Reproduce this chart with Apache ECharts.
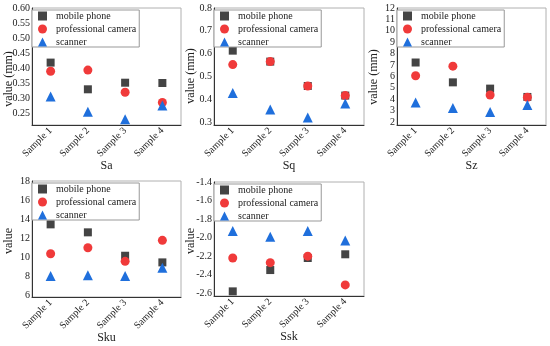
<!DOCTYPE html>
<html>
<head>
<meta charset="utf-8">
<script src="https://cdn.jsdelivr.net/npm/echarts@6/dist/echarts.min.js"></script>
<style>html,body{margin:0;padding:0;background:#fff;}#c{width:550px;height:346px;}</style>
</head>
<body>
<div id="c"></div>
<script>
const categories = ['Sample 1', 'Sample 2', 'Sample 3', 'Sample 4'];
const seriesNames = ['mobile phone', 'professional camera', 'scanner'];

const saMobile = [0.418, 0.329, 0.351, 0.350];
const saCamera = [0.389, 0.393, 0.319, 0.285];
const saScanner = [0.305, 0.254, 0.229, 0.275];

const sqMobile = [0.613, 0.565, 0.458, 0.416];
const sqCamera = [0.552, 0.565, 0.458, 0.416];
const sqScanner = [0.427, 0.355, 0.320, 0.381];

const szMobile = [7.22, 5.48, 4.93, 4.20];
const szCamera = [6.06, 6.90, 4.37, 4.17];
const szScanner = [3.71, 3.24, 2.87, 3.50];

const skuMobile = [13.44, 12.60, 10.14, 9.44];
const skuCamera = [10.35, 10.98, 9.55, 11.76];
const skuScanner = [8.00, 8.10, 8.00, 8.87];

const sskMobile = [-2.58, -2.35, -2.22, -2.18];
const sskCamera = [-2.22, -2.27, -2.20, -2.51];
const sskScanner = [-1.93, -1.99, -1.93, -2.03];

const saTicks = [0.25, 0.30, 0.35, 0.40, 0.45, 0.50, 0.55, 0.60];
const sqTicks = [0.3, 0.4, 0.5, 0.6, 0.7, 0.8];
const szTicks = [2, 3, 4, 5, 6, 7, 8, 9, 10, 11, 12];
const skuTicks = [6, 8, 10, 12, 14, 16, 18];
const sskTicks = [-2.6, -2.4, -2.2, -2.0, -1.8, -1.6, -1.4];

const panels = [
  {title: 'Sa', yName: 'value (mm)', data: [saMobile, saCamera, saScanner], ticks: saTicks, dec: 2, min: 0.21, max: 0.6,
   left: 32, top: 8, width: 149, height: 117, nameY: 79},
  {title: 'Sq', yName: 'value (mm)', data: [sqMobile, sqCamera, sqScanner], ticks: sqTicks, dec: 1, min: 0.287, max: 0.8,
   left: 214, top: 8, width: 150, height: 117, nameY: 76},
  {title: 'Sz', yName: 'value (mm)', data: [szMobile, szCamera, szScanner], ticks: szTicks, dec: 0, min: 1.74, max: 12,
   left: 397, top: 8, width: 149, height: 117, nameY: 77},
  {title: 'Sku', yName: 'value', data: [skuMobile, skuCamera, skuScanner], ticks: skuTicks, dec: 0, min: 5.8, max: 18,
   left: 32, top: 181, width: 149, height: 116, nameY: 241},
  {title: 'Ssk', yName: 'value', data: [sskMobile, sskCamera, sskScanner], ticks: sskTicks, dec: 1, min: -2.63, max: -1.4,
   left: 214, top: 182, width: 150, height: 114, nameY: 241}
];

const colors = ['#444444', '#f03a3a', '#1f6fdc'];
const symbols = ['rect', 'circle', 'triangle'];
const sizes = [8, 9, 10];
const font = 'Liberation Serif';
const txt = '#222';

const grid = [], xAxis = [], yAxis = [], series = [], legend = [], graphic = [];
panels.forEach((p, i) => {
  grid.push({left: p.left, top: p.top, width: p.width, height: p.height, show: true,
    borderColor: '#b0b0b0', borderWidth: 1, backgroundColor: 'transparent'});
  xAxis.push({type: 'category', gridIndex: i, data: categories, name: p.title,
    nameLocation: 'middle', nameGap: 35, nameMoveOverlap: false,
    nameTextStyle: {fontFamily: font, fontSize: 12, color: txt},
    axisLine: {lineStyle: {color: '#333', width: 1}},
    axisTick: {alignWithLabel: true, length: 3, lineStyle: {color: '#333'}},
    axisLabel: {rotate: 45, fontFamily: font, fontSize: 10, color: txt, margin: 4, interval: 0},
    splitLine: {show: false}});
  yAxis.push({type: 'value', gridIndex: i, min: p.min, max: p.max,
    axisLine: {show: true, lineStyle: {color: '#333', width: 1}},
    axisTick: {show: false},
    axisLabel: {fontFamily: font, fontSize: 10, color: txt, margin: 2,
      customValues: p.ticks, formatter: v => Number(v).toFixed(p.dec)},
    splitLine: {show: false}});
  graphic.push({type: 'text', x: p.left - 23, y: p.nameY, rotation: Math.PI / 2,
    style: {text: p.yName, fill: txt, font: '12px "Liberation Serif"', align: 'center', verticalAlign: 'middle'}});
  p.data.forEach((arr, k) => {
    series.push({type: 'scatter', name: seriesNames[k], xAxisIndex: i, yAxisIndex: i,
      symbol: symbols[k], symbolSize: sizes[k], data: arr, z: 2 + k,
      itemStyle: {color: colors[k], opacity: 1}, emphasis: {disabled: true}});
  });
  legend.push({left: p.left, top: p.top + 2, orient: 'vertical',
    data: seriesNames, selectedMode: false,
    backgroundColor: '#fff', borderColor: '#999', borderWidth: 1, borderRadius: 0,
    padding: [1, 3, 0, 6], itemGap: 3, itemWidth: 9, itemHeight: 9,
    textStyle: {fontFamily: font, fontSize: 10, color: txt, padding: [0, 0, 0, 4]}});
});

const chart = echarts.init(document.getElementById('c'), null, {renderer: 'canvas'});
chart.setOption({animation: false, backgroundColor: '#fff', grid, xAxis, yAxis, series, legend, graphic});
</script>
</body>
</html>
